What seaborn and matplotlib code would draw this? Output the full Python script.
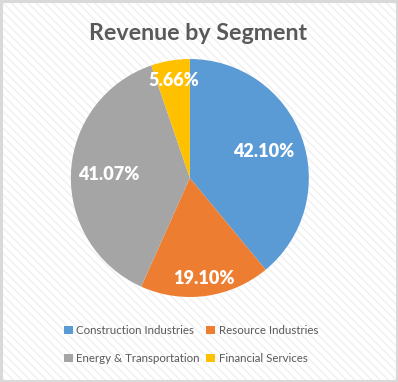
import numpy as np
import seaborn as sns
import matplotlib.pyplot as plt
from matplotlib.patches import Rectangle, Patch

# Data
segments = ['Construction Industries', 'Resource Industries',
            'Energy & Transportation', 'Financial Services']
shares = [42.10, 19.10, 41.07, 5.66]
colors = ['#5B9BD5', '#ED7D31', '#A5A5A5', '#FFC000']
# how far out each label sits (fraction of radius), like Excel's best fit
label_dist = [0.66, 0.85, 0.68, 0.83]

sns.set_theme(style='white')
plt.rcParams['font.family'] = ['Lato', 'DejaVu Sans']

fig = plt.figure(figsize=(3.98, 3.82), dpi=100)
fig.patch.set_facecolor('white')

# faint diagonal stripe background + border
bg = Rectangle((0, 0), 1, 1, transform=fig.transFigure, facecolor='white',
               edgecolor='#F0F0F0', hatch='\\\\\\\\', linewidth=0, zorder=-10)
fig.patches.append(bg)
border = Rectangle((0.0025, 0.0025), 0.995, 0.995, transform=fig.transFigure,
                   fill=False, edgecolor='#D9D9D9', linewidth=2.2, zorder=10)
fig.patches.append(border)

ax = fig.add_axes([0.477 - 0.299, 0.534 - 0.3115, 0.598, 0.623])
wedges, _ = ax.pie(shares, colors=colors, startangle=90, counterclock=False,
                   wedgeprops={'linewidth': 0})
ax.set_xlim(-1, 1)
ax.set_ylim(-1, 1)
ax.set_aspect('equal')

for w, v, d in zip(wedges, shares, label_dist):
    ang = np.deg2rad((w.theta1 + w.theta2) / 2)
    ax.text(d * np.cos(ang), d * np.sin(ang), f'{v:.2f}%', ha='center',
            va='center', color='white', fontsize=13, fontweight='heavy')

fig.text(0.497, 0.912, 'Revenue by Segment', ha='center', va='center',
         fontsize=16.7, fontweight='bold', color='#595959')

# legend reads row by row in the reference, matplotlib fills columns first
order = [0, 2, 1, 3]
handles = [Patch(facecolor=colors[i], edgecolor='none') for i in order]
labels = [segments[i] for i in order]
leg = fig.legend(handles, labels, ncol=2, loc='center',
                 bbox_to_anchor=(0.48, 0.098), frameon=False,
                 fontsize=8.3, handlelength=0.75, handleheight=0.75,
                 handletextpad=0.3, columnspacing=0.6, labelspacing=1.5)
for t in leg.get_texts():
    t.set_color('#595959')

fig.savefig('out.png', dpi=100)
